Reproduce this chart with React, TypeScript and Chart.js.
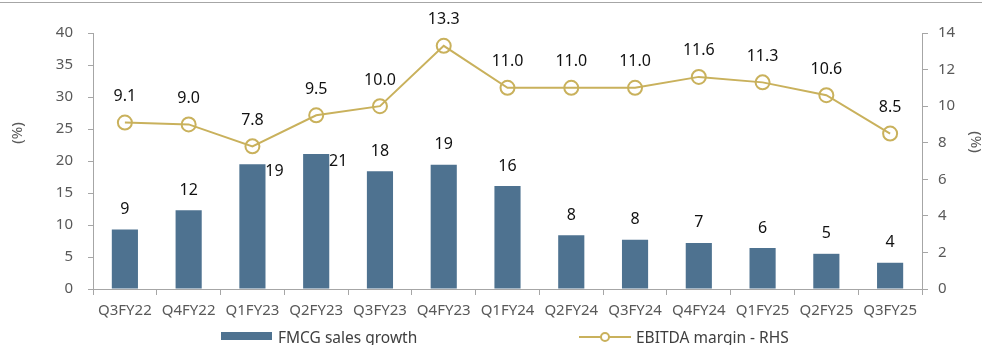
import React, { useEffect, useRef } from "react";
import { Chart, registerables } from "chart.js";

Chart.register(...registerables);

const categories = [
  "Q3FY22", "Q4FY22", "Q1FY23", "Q2FY23", "Q3FY23", "Q4FY23", "Q1FY24",
  "Q2FY24", "Q3FY24", "Q4FY24", "Q1FY25", "Q2FY25", "Q3FY25",
];
const fmcgSalesGrowth = [9.3, 12.3, 19.5, 21.1, 18.4, 19.4, 16.1, 8.4, 7.7, 7.2, 6.4, 5.5, 4.1];
const fmcgLabels = ["9", "12", "19", "21", "18", "19", "16", "8", "8", "7", "6", "5", "4"];
const ebitdaMargin = [9.1, 9.0, 7.8, 9.5, 10.0, 13.3, 11.0, 11.0, 11.0, 11.6, 11.3, 10.6, 8.5];
const leftTicks = [0, 5, 10, 15, 20, 25, 30, 35, 40];
const rightTicks = [0, 2, 4, 6, 8, 10, 12, 14];

const BAR_COLOR = "#4e7290";
const LINE_COLOR = "#c9b15c";
const FONT = "'Noto Sans', sans-serif";
const sideLabelIdx = [2, 3];

const labelPlugin = {
  id: "customLabels",
  afterDraw(chart: any) {
    const ctx = chart.ctx;
    ctx.save();
    // top border
    ctx.strokeStyle = "#a6a6a6";
    ctx.lineWidth = 1;
    ctx.beginPath();
    ctx.moveTo(0, 2.5);
    ctx.lineTo(chart.width, 2.5);
    ctx.stroke();

    ctx.font = `16px ${FONT}`;
    ctx.fillStyle = "#111";
    ctx.textAlign = "center";
    ctx.textBaseline = "middle";
    const barMeta = chart.getDatasetMeta(0);
    barMeta.data.forEach((el: any, i: number) => {
      if (sideLabelIdx.includes(i)) {
        ctx.fillText(fmcgLabels[i], el.x + 22, el.y + 7);
      } else {
        ctx.fillText(fmcgLabels[i], el.x, el.y - 20);
      }
    });
    const lineMeta = chart.getDatasetMeta(1);
    lineMeta.data.forEach((el: any, i: number) => {
      ctx.fillText(ebitdaMargin[i].toFixed(1), el.x, el.y - 26);
    });

    // axis titles
    ctx.font = `15px ${FONT}`;
    ctx.fillStyle = "#595959";
    ctx.save();
    ctx.translate(18, 133);
    ctx.rotate(-Math.PI / 2);
    ctx.fillText("(%)", 0, 0);
    ctx.restore();
    ctx.save();
    ctx.translate(975, 142);
    ctx.rotate(Math.PI / 2);
    ctx.fillText("(%)", 0, 0);
    ctx.restore();

    // legend
    ctx.fillStyle = BAR_COLOR;
    ctx.fillRect(221, 332, 51, 8);
    ctx.font = `15.5px ${FONT}`;
    ctx.fillStyle = "#404040";
    ctx.textAlign = "left";
    ctx.fillText("FMCG sales growth", 278, 339);
    ctx.strokeStyle = LINE_COLOR;
    ctx.lineWidth = 2;
    ctx.beginPath();
    ctx.moveTo(579, 337);
    ctx.lineTo(631, 337);
    ctx.stroke();
    ctx.fillStyle = "#fff";
    ctx.beginPath();
    ctx.arc(605, 337, 4, 0, Math.PI * 2);
    ctx.fill();
    ctx.stroke();
    ctx.fillStyle = "#404040";
    ctx.fillText("EBITDA margin - RHS", 636, 339);
    ctx.restore();
  },
};

export default function App() {
  const ref = useRef<HTMLCanvasElement>(null);
  useEffect(() => {
    document.body.style.margin = "0";
    if (!ref.current) return;
    const tickFont = { family: FONT, size: 15 };
    const chart = new Chart(ref.current, {
      type: "bar",
      data: {
        labels: categories,
        datasets: [
          {
            type: "bar",
            label: "FMCG sales growth",
            data: fmcgSalesGrowth,
            backgroundColor: BAR_COLOR,
            categoryPercentage: 1,
            barPercentage: 0.41,
            yAxisID: "y",
            order: 2,
          },
          {
            type: "line",
            label: "EBITDA margin - RHS",
            data: ebitdaMargin,
            borderColor: LINE_COLOR,
            borderWidth: 2,
            pointRadius: 7,
            pointBorderWidth: 2,
            pointBackgroundColor: "rgba(255,255,255,0)",
            pointBorderColor: LINE_COLOR,
            yAxisID: "y1",
            order: 1,
          } as any,
        ],
      },
      options: {
        animation: false,
        responsive: false,
        layout: { padding: { top: 33, left: 0, right: 0, bottom: 0 } },
        plugins: { legend: { display: false }, tooltip: { enabled: false } },
        scales: {
          x: {
            grid: { display: true, drawOnChartArea: false, drawTicks: true, tickLength: 6, color: "#a6a6a6", offset: true },
            border: { display: true, color: "#a6a6a6" },
            ticks: { color: "#595959", font: tickFont, padding: 7, maxRotation: 0, autoSkip: false },
            afterFit: (s: any) => { s.height = 56; },
          },
          y: {
            position: "left",
            min: 0,
            max: 40,
            afterBuildTicks: (s: any) => { s.ticks = leftTicks.map((v) => ({ value: v })); },
            grid: { display: true, drawOnChartArea: false, drawTicks: true, tickLength: 5, color: "#a6a6a6" },
            border: { display: true, color: "#a6a6a6" },
            ticks: { color: "#595959", font: tickFont, padding: 15 },
            afterFit: (s: any) => { s.width = 93; },
          },
          y1: {
            position: "right",
            min: 0,
            max: 14,
            afterBuildTicks: (s: any) => { s.ticks = rightTicks.map((v) => ({ value: v })); },
            grid: { display: true, drawOnChartArea: false, drawTicks: true, tickLength: 6, color: "#a6a6a6" },
            border: { display: true, color: "#a6a6a6" },
            ticks: { color: "#595959", font: tickFont, padding: 10 },
            afterFit: (s: any) => { s.width = 60; },
          },
        },
      },
      plugins: [labelPlugin],
    });
    return () => chart.destroy();
  }, []);
  return <canvas ref={ref} width={982} height={345} style={{ display: "block" }} />;
}
